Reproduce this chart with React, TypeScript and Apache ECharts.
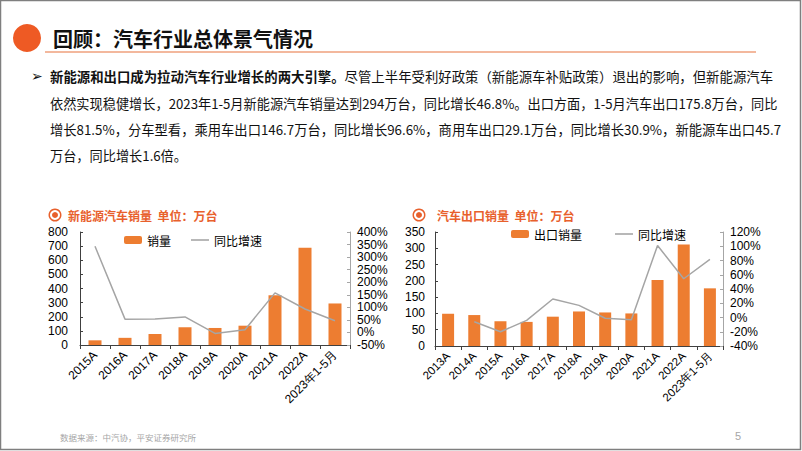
import React, { useEffect, useRef } from 'react';
import * as echarts from 'echarts';

const nevCategories = ['2015A', '2016A', '2017A', '2018A', '2019A', '2020A', '2021A', '2022A', '2023年1-5月'];
const nevSales = [33.1, 50.7, 77.7, 125.6, 120.6, 136.7, 352.1, 688.7, 294];
const nevGrowth = [343, 53, 53.3, 61.7, -4, 10.9, 157.5, 93.4, 46.8];

const exportCategories = ['2013A', '2014A', '2015A', '2016A', '2017A', '2018A', '2019A', '2020A', '2021A', '2022A', '2023年1-5月'];
const exportSales = [99, 95, 76, 74, 90, 106, 103, 100, 203, 312, 177];
const exportGrowth = [null, -6, -20, -4, 26, 17, -1, -3, 101, 54.4, 81.5];

const headerTitle = '回顾：汽车行业总体景气情况';
const paraBold = '新能源和出口成为拉动汽车行业增长的两大引擎。';
const paraLines = [
  '尽管上半年受利好政策（新能源车补贴政策）退出的影响，但新能源汽车',
  '依然实现稳健增长，2023年1-5月新能源汽车销量达到294万台，同比增长46.8%。出口方面，1-5月汽车出口175.8万台，同比',
  '增长81.5%，分车型看，乘用车出口146.7万台，同比增长96.6%，商用车出口29.1万台，同比增长30.9%，新能源车出口45.7',
  '万台，同比增长1.6倍。',
];
const leftTitle = '新能源汽车销量  单位：万台';
const rightTitle = '汽车出口销量  单位：万台';
const sourceText = '数据来源：中汽协，平安证券研究所';
const pageNumber = '5';

const ORANGE = '#ED7D31';
const GRAY = '#A5A5A5';
const CJK = '"Noto Sans CJK SC", sans-serif';
const LATIN = '"Liberation Sans", Arial, sans-serif';
const LINE_ICON = 'path://M0,0h16v1.4h-16z';

export default function App() {
  const ref = useRef<HTMLDivElement>(null);
  useEffect(() => {
    const chart = echarts.init(ref.current!, null, { renderer: 'svg' });
    const axisLabel = { color: '#000', fontSize: 12, fontFamily: LATIN };
    const option: any = {
      animation: false,
      backgroundColor: '#fff',
      grid: [
        { left: 80, top: 232, width: 270, height: 113 },
        { left: 435, top: 232, width: 288, height: 114 },
      ],
      legend: [
        {
          left: 119, top: 229, itemWidth: 18, itemHeight: 8, itemGap: 20,
          data: ['销量', { name: '同比增速', icon: LINE_ICON, itemStyle: { color: GRAY } }],
          textStyle: { fontFamily: CJK, fontSize: 12, color: '#000' },
        },
        {
          left: 506, top: 223, itemWidth: 18, itemHeight: 8, itemGap: 33,
          data: ['出口销量', { name: '同比增速 ', icon: LINE_ICON, itemStyle: { color: GRAY } }],
          textStyle: { fontFamily: CJK, fontSize: 12, color: '#000' },
        },
      ],
      xAxis: [
        {
          type: 'category', gridIndex: 0, data: nevCategories,
          axisLine: { lineStyle: { color: '#404040' } },
          axisTick: { show: true, length: 4, lineStyle: { color: '#404040' } },
          axisLabel: { ...axisLabel, rotate: 45, margin: 8, interval: 0 },
        },
        {
          type: 'category', gridIndex: 1, data: exportCategories,
          axisLine: { lineStyle: { color: '#404040' } },
          axisTick: { show: true, length: 4, lineStyle: { color: '#404040' } },
          axisLabel: { ...axisLabel, fontSize: 11.5, rotate: 45, margin: 8, interval: 0 },
        },
      ],
      yAxis: [
        {
          type: 'value', gridIndex: 0, min: 0, max: 800, interval: 100,
          axisLine: { show: true, lineStyle: { color: '#404040' } },
          axisTick: { show: true, inside: true, length: 3, lineStyle: { color: '#404040' } },
          splitLine: { show: false },
          axisLabel: { ...axisLabel, margin: 12 },
        },
        {
          type: 'value', gridIndex: 0, min: -50, max: 400, interval: 50, position: 'right',
          axisLine: { show: true, lineStyle: { color: '#A6A6A6' } },
          axisTick: { show: true, inside: true, length: 3, lineStyle: { color: '#A6A6A6' } },
          splitLine: { show: false },
          axisLabel: { ...axisLabel, margin: 7, formatter: '{value}%' },
        },
        {
          type: 'value', gridIndex: 1, min: 0, max: 350, interval: 50,
          axisLine: { show: true, lineStyle: { color: '#404040' } },
          axisTick: { show: true, inside: true, length: 3, lineStyle: { color: '#404040' } },
          splitLine: { show: false },
          axisLabel: { ...axisLabel, margin: 10 },
        },
        {
          type: 'value', gridIndex: 1, min: -40, max: 120, interval: 20, position: 'right',
          axisLine: { show: true, lineStyle: { color: '#A6A6A6' } },
          axisTick: { show: true, inside: true, length: 3, lineStyle: { color: '#A6A6A6' } },
          splitLine: { show: false },
          axisLabel: { ...axisLabel, margin: 7, formatter: '{value}%' },
        },
      ],
      series: [
        {
          name: '销量', type: 'bar', xAxisIndex: 0, yAxisIndex: 0, data: nevSales,
          barWidth: 13, itemStyle: { color: ORANGE },
        },
        {
          name: '同比增速', type: 'line', xAxisIndex: 0, yAxisIndex: 1, data: nevGrowth,
          symbol: 'none', lineStyle: { color: GRAY, width: 1.5 }, itemStyle: { color: GRAY },
        },
        {
          name: '出口销量', type: 'bar', xAxisIndex: 1, yAxisIndex: 2, data: exportSales,
          barWidth: 12, itemStyle: { color: ORANGE },
        },
        {
          name: '同比增速 ', type: 'line', xAxisIndex: 1, yAxisIndex: 3, data: exportGrowth,
          symbol: 'none', lineStyle: { color: GRAY, width: 1.5 }, itemStyle: { color: GRAY },
        },
      ],
      graphic: [
        { type: 'rect', shape: { x: 0.5, y: 0.5, width: 800, height: 449 }, style: { fill: 'none', stroke: '#7F7F7F', lineWidth: 1.5 }, silent: true },
        { type: 'circle', shape: { cx: 27, cy: 38, r: 14 }, style: { fill: '#EE5A24' } },
        { type: 'text', x: 53, y: 38, style: { text: headerTitle, font: `bold 20px ${CJK}`, fill: '#111', verticalAlign: 'middle' } },
        { type: 'line', shape: { x1: 45, y1: 52, x2: 756, y2: 52 }, style: { stroke: '#EFA07C', lineWidth: 1.5 } },
        { type: 'text', x: 31, y: 76, style: { text: '➢', font: `14px "DejaVu Sans"`, fill: '#111', verticalAlign: 'middle' } },
        {
          type: 'text', x: 50, y: 76,
          style: {
            text: `{b|${paraBold}}{n|${paraLines[0]}}`, verticalAlign: 'middle',
            rich: {
              b: { fontFamily: CJK, fontSize: 13.4, fontWeight: 'bold', fill: '#111' },
              n: { fontFamily: CJK, fontSize: 13.4, fill: '#111' },
            },
          },
        },
        { type: 'text', x: 50, y: 103, style: { text: paraLines[1], font: `13.2px ${CJK}`, fill: '#111', verticalAlign: 'middle' } },
        { type: 'text', x: 50, y: 129, style: { text: paraLines[2], font: `13.3px ${CJK}`, fill: '#111', verticalAlign: 'middle' } },
        { type: 'text', x: 50, y: 155, style: { text: paraLines[3], font: `13.2px ${CJK}`, fill: '#111', verticalAlign: 'middle' } },
        { type: 'ring', shape: { cx: 55, cy: 215, r: 6.5, r0: 5 }, style: { fill: '#E8602C' } },
        { type: 'circle', shape: { cx: 55, cy: 215, r: 3 }, style: { fill: '#E8602C' } },
        { type: 'text', x: 68, y: 215, style: { text: leftTitle, font: `bold 12px ${CJK}`, fill: '#E8602C', verticalAlign: 'middle' } },
        { type: 'ring', shape: { cx: 419, cy: 215, r: 6.5, r0: 5 }, style: { fill: '#E8602C' } },
        { type: 'circle', shape: { cx: 419, cy: 215, r: 3 }, style: { fill: '#E8602C' } },
        { type: 'text', x: 437, y: 215, style: { text: rightTitle, font: `bold 12px ${CJK}`, fill: '#E8602C', verticalAlign: 'middle' } },
        { type: 'text', x: 60, y: 437, style: { text: sourceText, font: `8.5px ${CJK}`, fill: '#A6A6A6', verticalAlign: 'middle' } },
        { type: 'text', x: 735, y: 436, style: { text: pageNumber, font: `11px ${LATIN}`, fill: '#A6A6A6', verticalAlign: 'middle' } },
      ],
    };
    chart.setOption(option);
    return () => chart.dispose();
  }, []);
  return <div ref={ref} style={{ position: 'fixed', left: 0, top: 0, width: 802, height: 451 }} />;
}
